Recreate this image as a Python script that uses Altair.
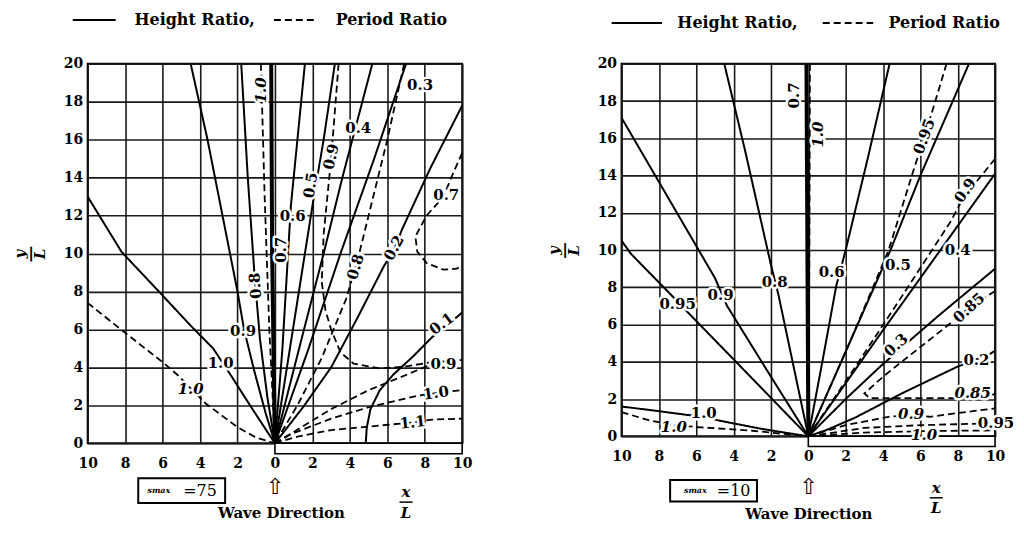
import altair as alt
import pandas as pd

SERIF = "DejaVu Serif"

X_TICKS = [-10, -8, -6, -4, -2, 0, 2, 4, 6, 8, 10]
Y_TICKS = [0, 2, 4, 6, 8, 10, 12, 14, 16, 18, 20]
KINDS = ["Height Ratio,", "Period Ratio"]

# ---------------- Smax = 75 (left panel) ----------------
# height ratio (solid)
S75_H100 = [(-10, 13.0), (-8.2, 10.1), (-6.2, 8.0), (-4.5, 6.2), (-3.3, 5.0), (-2.3, 3.5), (-1.2, 1.8), (0, 0)]
S75_H090 = [(-4.5, 20), (-3.6, 16), (-2.8, 12), (-2.0, 8), (-1.65, 6), (-1.1, 3.8), (-0.5, 1.6), (0, 0)]
S75_H080 = [(-1.8, 20), (-1.45, 14), (-1.1, 9), (-0.8, 5.5), (-0.4, 2.4), (0, 0)]
S75_H070 = [(-0.2, 20), (-0.15, 10), (-0.05, 3), (0, 0)]
S75_H060 = [(1.6, 20), (1.2, 16), (0.85, 12.5), (0.7, 10), (0.4, 5), (0, 0)]
S75_H050 = [(3.2, 20), (2.6, 16), (2.0, 12.5), (1.6, 10), (0.8, 5), (0, 0)]
S75_H040 = [(5.2, 20), (4.4, 17), (3.6, 14), (2.6, 10), (1.5, 5.8), (0, 0)]
S75_H030 = [(7.0, 20), (5.3, 15), (3.5, 10), (1.8, 5), (0, 0)]
S75_H020 = [(10, 17.8), (8.3, 14.5), (6.8, 11.3), (6.4, 10.3), (5.8, 9.3), (4.4, 6.6), (3.0, 4.0), (1.5, 1.9), (0, 0)]
S75_H010 = [(4.85, 0), (4.9, 0.8), (5.1, 1.8), (5.6, 2.8), (6.3, 3.6), (7.4, 4.6), (8.4, 5.6), (9.2, 6.2), (10, 6.9)]
# period ratio (dashed)
S75_T100L = [(-10, 7.4), (-8.1, 5.9), (-5.9, 4.2), (-5.2, 3.6), (-4.5, 2.9), (-3.7, 2.1), (-2.0, 0.85), (-1, 0.3), (0, 0)]
S75_T100C = [(-0.75, 20), (-0.55, 13), (-0.3, 6), (0, 0)]
S75_T090 = [(3.4, 20), (3.0, 15), (2.6, 11), (2.5, 8.5), (2.7, 7.0), (3.0, 6.0), (3.5, 4.8), (4.2, 4.2), (5.6, 3.95), (7.0, 4.05), (8.2, 4.25), (10, 4.4)]
S75_T090B = [(0, 0), (1.5, 0.9), (3, 1.8), (5, 2.8), (7, 3.6), (8.2, 4.1)]
S75_T080 = [(6.9, 20), (6.0, 16), (5.0, 12), (4.4, 9.6), (3.8, 7.6), (2.5, 4.5), (1.2, 2.0), (0, 0)]
S75_T070 = [(10, 15.3), (9.5, 14.2), (9.0, 13.0), (8.1, 12.0), (7.5, 10.9), (7.6, 10.1), (8.1, 9.5), (9.0, 9.15), (9.7, 9.2), (10, 9.35)]
S75_T100R = [(0, 0), (0.9, 0.5), (3, 1.3), (5, 1.9), (7.6, 2.5), (8.6, 2.65), (9.5, 2.75), (10, 2.8)]
S75_T110 = [(0, 0), (1.2, 0.35), (3, 0.7), (6.3, 1.0), (7.35, 1.1), (8.4, 1.25), (10, 1.3)]
# contour labels: text, x, y, angle, italic
S75_LABELS = [
    ("1.0", -2.9, 4.25, 0, 0), ("0.9", -1.7, 5.9, 0, 0), ("0.8", -1.05, 8.3, 266, 0),
    ("1.0", -0.72, 18.6, 270, 1), ("0.7", 0.3, 10.2, 270, 0), ("0.6", 0.95, 12.0, 0, 0),
    ("0.5", 1.9, 13.6, 279, 0), ("0.9", 3.0, 15.1, 283, 0), ("0.4", 4.45, 16.6, 0, 0),
    ("0.3", 7.75, 18.9, 0, 0), ("0.8", 4.3, 9.3, 287, 0), ("0.2", 6.35, 10.3, 298, 0),
    ("0.7", 9.15, 13.1, 0, 0), ("0.1", 8.9, 6.3, 323, 0), ("0.9", 9.0, 4.2, 0, 0),
    ("1.0", 8.6, 2.65, 352, 0), ("1.1", 7.35, 1.1, 354, 0), ("1.0", -4.5, 2.85, 0, 1),
]

# ---------------- Smax = 10 (right panel) ----------------
S10_H100 = [(-10, 1.6), (-8, 1.35), (-6.5, 1.15), (-5.6, 1.05), (-4.8, 0.85), (-2.5, 0.4), (0, 0)]
S10_H095 = [(-10, 10.5), (-9.5, 9.8), (-7.45, 7.7), (-6.3, 6.5), (-3, 3.1), (0, 0)]
S10_H090 = [(-10, 17.1), (-7.5, 12.8), (-5.0, 8.5), (-4.35, 7.0), (-2, 3.2), (0, 0)]
S10_H080 = [(-4.5, 20), (-3.4, 15.4), (-2.0, 9.2), (-1.6, 7.6), (-0.8, 3.8), (0, 0)]
S10_H070 = [(-0.1, 20), (-0.05, 10), (0, 0)]
S10_H060 = [(4.35, 20), (3.2, 15), (2.0, 10), (1.5, 8.1), (0.75, 4), (0, 0)]
S10_H050 = [(8.6, 20), (6.0, 14), (4.4, 10), (2.2, 5), (0, 0)]
S10_H040 = [(10, 14.1), (7, 9.9), (4, 5.7), (0, 0)]
S10_H030 = [(10, 9.0), (7, 6.5), (5.5, 5.2), (3.8, 3.7), (2, 2), (0, 0)]
S10_H020 = [(0, 0), (1, 0.35), (2.5, 1.0), (5, 2.3), (7.9, 3.7), (8.9, 4.1), (9.7, 4.4), (10, 4.6)]
S10_T100L = [(-10, 1.3), (-8.5, 0.85), (-7.2, 0.6), (-6, 0.5), (-3, 0.3), (0, 0)]
S10_T100C = [(0.08, 20), (0.05, 10), (0, 0)]
S10_T095 = [(7.4, 20), (6.2, 16), (5.7, 14.5), (4.3, 10), (2.2, 5), (0, 0)]
S10_T090 = [(10, 14.9), (8.3, 12.8), (7.6, 11.5), (5, 7.5), (2.5, 3.7), (0, 0)]
S10_T085 = [(10, 7.8), (8.6, 6.9), (7.4, 5.9), (5.5, 4.4), (4.0, 3.2), (3.0, 2.3), (3.3, 2.05), (5, 2.05), (7.8, 2.05), (9.8, 2.2), (10, 2.3)]
S10_T090B = [(0, 0), (2, 0.6), (4.3, 1.05), (5.5, 1.15), (6.5, 1.05), (8, 1.25), (10, 1.5)]
S10_T095B = [(0, 0), (3, 0.45), (6, 0.6), (10, 0.7)]
S10_T100B = [(0, 0), (3, 0.2), (6.2, 0.28), (10, 0.32)]
S10_LABELS = [
    ("1.0", -5.6, 1.25, 0, 0), ("1.0", -7.2, 0.5, 0, 1), ("0.95", -7.0, 7.1, 0, 0),
    ("0.9", -4.7, 7.6, 0, 0), ("0.8", -1.8, 8.3, 0, 0), ("0.7", -0.75, 18.3, 270, 0),
    ("1.0", 0.5, 16.2, 270, 1), ("0.6", 1.25, 8.8, 0, 0), ("0.95", 6.2, 16.1, 290, 0),
    ("0.5", 4.8, 9.2, 0, 0), ("0.9", 8.4, 13.2, 305, 0), ("0.4", 8.0, 10.0, 0, 0),
    ("0.85", 8.6, 6.9, 318, 0), ("0.3", 4.7, 4.9, 318, 0), ("0.2", 9.0, 4.1, 0, 0),
    ("0.85", 8.8, 2.3, 0, 1), ("0.9", 5.5, 1.2, 0, 1), ("0.95", 10.05, 0.7, 0, 0),
    ("1.0", 6.2, 0.05, 0, 1),
]

S75_CURVES = [
    ("H", 2.0, S75_H100), ("H", 2.0, S75_H090), ("H", 2.0, S75_H080), ("H", 4.0, S75_H070),
    ("H", 2.0, S75_H060), ("H", 2.0, S75_H050), ("H", 2.0, S75_H040), ("H", 2.0, S75_H030),
    ("H", 2.0, S75_H020), ("H", 2.0, S75_H010),
    ("T", 1.8, S75_T100L), ("T", 1.8, S75_T100C), ("T", 1.8, S75_T090), ("T", 1.8, S75_T090B),
    ("T", 1.8, S75_T080), ("T", 1.8, S75_T070), ("T", 1.8, S75_T100R), ("T", 1.8, S75_T110),
]
S10_CURVES = [
    ("H", 2.0, S10_H100), ("H", 2.0, S10_H095), ("H", 2.0, S10_H090), ("H", 2.0, S10_H080),
    ("H", 4.0, S10_H070), ("H", 2.0, S10_H060), ("H", 2.0, S10_H050), ("H", 2.0, S10_H040),
    ("H", 2.0, S10_H030), ("H", 2.0, S10_H020),
    ("T", 1.8, S10_T100L), ("T", 2.0, S10_T100C), ("T", 1.8, S10_T095), ("T", 1.8, S10_T090),
    ("T", 1.8, S10_T085), ("T", 1.8, S10_T090B), ("T", 1.8, S10_T095B), ("T", 1.8, S10_T100B),
]

BREAKWATER = {"x": [0], "x2": [10], "y": [0], "y2": [-0.55]}


def line_df(curves):
    rows = []
    for cid, (kind, w, pts) in enumerate(curves):
        for i, (x, y) in enumerate(pts):
            rows.append({"cid": cid, "kind": KINDS[0] if kind == "H" else KINDS[1],
                         "w": w, "i": i, "x": x, "y": y})
    return pd.DataFrame(rows)


def label_df(labels):
    return pd.DataFrame([{"t": t, "x": x, "y": y, "a": a, "it": it} for t, x, y, a, it in labels])


def panel(curves, labels, smax, w, h, leg, ann, xtitle_pad, xtitle_x=None):
    leg_x, leg_y, sym_size, lab_off, col_pad = leg
    xaxis = dict(values=X_TICKS, labelExpr="abs(datum.value)", title="Wave Direction",
                 titlePadding=xtitle_pad, titleFontStyle="normal", titleFontSize=15,
                 labelPadding=13)
    if xtitle_x is not None:
        xaxis["titleX"] = xtitle_x
    X = alt.X("x:Q", scale=alt.Scale(domain=[-10, 10], nice=False, zero=False),
              axis=alt.Axis(**xaxis))
    Y = alt.Y("y:Q", scale=alt.Scale(domain=[0, 20], nice=False, zero=False),
              axis=alt.Axis(values=Y_TICKS, title=["y", "\u2015", "L"], titleFontStyle="italic",
                            titleFontSize=15, titleLineHeight=10, titlePadding=16, labelPadding=5))

    lines = alt.Chart(line_df(curves)).mark_line(clip=True, color="black").encode(
        x=X, y=Y, detail="cid:N", order="i:Q",
        strokeDash=alt.StrokeDash(
            "kind:N", scale=alt.Scale(domain=KINDS, range=[[1, 0], [7, 4]]),
            legend=alt.Legend(orient="none", legendX=leg_x, legendY=leg_y, direction="horizontal",
                              title=None, symbolType="M0,0H8", symbolSize=sym_size,
                              symbolStrokeWidth=2, symbolStrokeColor="black",
                              labelFont=SERIF, labelFontSize=16, labelFontWeight="bold",
                              labelColor="black", labelOffset=lab_off, columnPadding=col_pad,
                              labelLimit=0)),
        strokeWidth=alt.StrokeWidth("w:Q", scale=None, legend=None),
    )
    bw = alt.Chart(pd.DataFrame(BREAKWATER)).mark_rect(fill="white", stroke="black", strokeWidth=1.6).encode(
        x=X, x2="x2:Q", y=Y, y2="y2:Q")

    ldf = label_df(labels)
    layers = [lines, bw]
    for it, style in [(0, "normal"), (1, "italic")]:
        base = alt.Chart(ldf).transform_filter(f"datum.it == {it}")
        halo = base.mark_text(font=SERIF, fontSize=15, fontWeight="bold", fontStyle=style,
                              fill="white", stroke="white", strokeWidth=5, strokeJoin="round").encode(
            x=X, y=Y, text="t:N", angle=alt.Angle("a:Q", scale=None))
        txt = base.mark_text(font=SERIF, fontSize=15, fontWeight="bold", fontStyle=style,
                             color="black").encode(
            x=X, y=Y, text="t:N", angle=alt.Angle("a:Q", scale=None))
        layers += [halo, txt]

    bx0, bx1, by0, by1, sx, nx, ty, ay, fx, fy = ann
    box = alt.Chart(pd.DataFrame({"x": [bx0], "x2": [bx1], "y": [by0], "y2": [by1]})).mark_rect(
        fill="white", stroke="black", strokeWidth=2).encode(x=X, x2="x2:Q", y=Y, y2="y2:Q")
    stxt = alt.Chart(pd.DataFrame({"x": [sx], "y": [ty], "t": ["smax"]})).mark_text(
        font=SERIF, fontSize=8, fontWeight="bold", fontStyle="italic", color="black").encode(
        x=X, y=Y, text="t:N")
    ntxt = alt.Chart(pd.DataFrame({"x": [nx], "y": [ty], "t": ["=" + smax]})).mark_text(
        font=SERIF, fontSize=16, color="black").encode(x=X, y=Y, text="t:N")
    arrow = alt.Chart(pd.DataFrame({"x": [0], "y": [ay], "t": ["\u21e7"]})).mark_text(
        font="DejaVu Sans", fontSize=22, color="black").encode(x=X, y=Y, text="t:N")
    frac_df = pd.DataFrame({"x": [fx, fx], "y": [fy + 0.55, fy - 0.55], "t": ["x", "L"]})
    frac = alt.Chart(frac_df).mark_text(font=SERIF, fontSize=15, fontWeight="bold",
                                        fontStyle="italic", color="black").encode(
        x=X, y=Y, text="t:N")
    bar = alt.Chart(pd.DataFrame({"x": [fx - 0.35], "x2": [fx + 0.35], "y": [fy]})).mark_rule(
        color="black", strokeWidth=1.5).encode(x=X, x2="x2:Q", y=Y)
    layers += [box, stxt, ntxt, arrow, frac, bar]
    return alt.layer(*layers).properties(width=w, height=h)


left = panel(S75_CURVES, S75_LABELS, "75", 376, 381, (-23, -52, 116, 54, 11),
             (-7.3, -2.66, -1.84, -3.15, -6.2, -4.0, -2.5, -2.3, 7.0, -3.1), 36, 194)
right = panel(S10_CURVES, S10_LABELS, "10", 375, 374, (-18, -49, 160, 58, 17),
              (-7.4, -2.75, -2.35, -3.5, -6.05, -4.0, -2.93, -2.73, 6.85, -3.3), 44)

chart = alt.hconcat(left, right, spacing=72).resolve_scale(
    strokeDash="independent").resolve_legend(strokeDash="independent").properties(
    padding={"left": 3, "top": 2, "right": 0, "bottom": 0}
).configure_view(stroke="black", strokeWidth=2).configure_axis(
    labelFont=SERIF, labelFontSize=14, labelFontWeight="bold", labelColor="black",
    titleFont=SERIF, titleFontWeight="bold", titleColor="black",
    grid=True, gridColor="#1a1a1a", gridWidth=1.6, gridOpacity=1,
    ticks=False, domain=False, labelFlush=False, labelOverlap=False,
)

chart.save("out.html", embed_options={"renderer": "svg", "actions": False})
